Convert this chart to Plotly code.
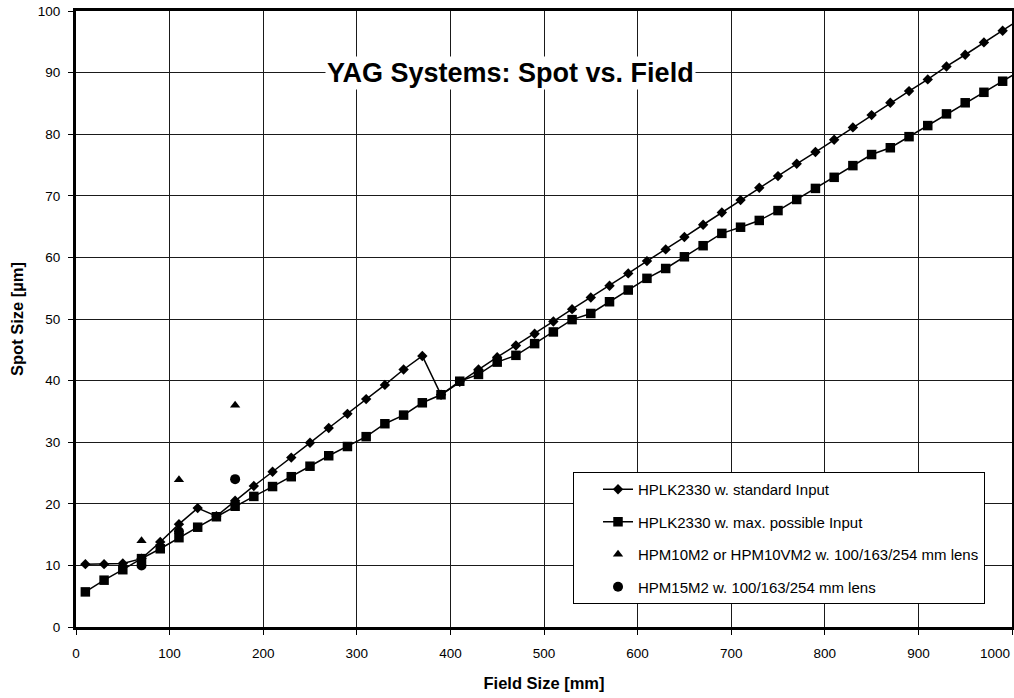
import plotly.graph_objects as go

# Field size [mm]
field_mm = [10, 30, 50, 70, 90, 110, 130, 150, 170, 190,
            210, 230, 250, 270, 290, 310, 330, 350, 370, 390,
            410, 430, 450, 470, 490, 510, 530, 550, 570, 590,
            610, 630, 650, 670, 690, 710, 730, 750, 770, 790,
            810, 830, 850, 870, 890, 910, 930, 950, 970, 990, 1010]

# HPLK2330 w. standard Input
std_input = [10.2, 10.2, 10.3, 11.1, 13.8, 16.7, 19.3, 18.0, 20.5, 22.9,
             25.2, 27.5, 29.9, 32.3, 34.6, 37.0, 39.3, 41.8, 44.0, 37.7,
             39.8, 41.8, 43.8, 45.7, 47.6, 49.6, 51.6, 53.5, 55.4, 57.4,
             59.4, 61.3, 63.3, 65.3, 67.3, 69.3, 71.3, 73.2, 75.2, 77.1,
             79.1, 81.1, 83.1, 85.1, 87.0, 88.9, 91.0, 92.9, 94.9, 96.8, 98.8]

# HPLK2330 w. max. possible Input
max_input = [5.7, 7.6, 9.3, 11.1, 12.7, 14.5, 16.2, 17.9, 19.6, 21.2,
             22.8, 24.4, 26.1, 27.8, 29.3, 30.9, 33.0, 34.4, 36.4, 37.7,
             39.9, 41.0, 43.0, 44.1, 46.0, 47.9, 49.9, 50.9, 52.8, 54.7,
             56.6, 58.2, 60.1, 61.9, 63.9, 64.9, 66.0, 67.6, 69.4, 71.2,
             73.0, 74.9, 76.7, 77.8, 79.6, 81.4, 83.3, 85.1, 86.8, 88.6, 90.4]

# HPM10M2 or HPM10VM2 w. 100/163/254 mm lens
hpm10_x = [70, 110, 170]
hpm10_y = [14.0, 23.9, 36.0]

# HPM15M2 w. 100/163/254 mm lens
hpm15_x = [70, 110, 170]
hpm15_y = [10.0, 15.5, 24.0]

x_tick_vals = [0, 100, 200, 300, 400, 500, 600, 700, 800, 900, 1000]
x_tick_text = ["0", "100", "200", "300", "400", "500", "600", "700", "800", "900", ""]
x_last_label = "1000"   # drawn right-aligned at its tick so it stays inside the page
y_tick_vals = [0, 10, 20, 30, 40, 50, 60, 70, 80, 90, 100]

FONT = "Arial, 'Liberation Sans', sans-serif"

fig = go.Figure()
fig.add_trace(go.Scatter(
    x=field_mm, y=std_input, mode="lines+markers",
    name="HPLK2330 w. standard Input", legendgroup="a",
    line=dict(color="black", width=1.5),
    marker=dict(symbol="diamond", size=8, color="black"),
))
fig.add_trace(go.Scatter(
    x=field_mm, y=max_input, mode="lines+markers",
    name="HPLK2330 w. max. possible Input", legendgroup="b",
    line=dict(color="black", width=1.5),
    marker=dict(symbol="square", size=9.5, color="black"),
))
fig.add_trace(go.Scatter(
    x=hpm10_x, y=hpm10_y, mode="markers",
    name="HPM10M2 or HPM10VM2 w. 100/163/254 mm lens", legendgroup="c",
    marker=dict(symbol="triangle-up", size=9, color="black"),
))
fig.add_trace(go.Scatter(
    x=hpm15_x, y=hpm15_y, mode="markers",
    name="HPM15M2 w. 100/163/254 mm lens", legendgroup="d",
    marker=dict(symbol="circle", size=10, color="black"),
))

axis_common = dict(
    showline=True, mirror=True, linewidth=3, linecolor="black",
    showgrid=True, gridcolor="#1a1a1a", gridwidth=1, zeroline=False,
    ticks="outside", ticklen=5, tickwidth=1, tickcolor="black",
    tickfont=dict(family=FONT, size=13.5, color="black"),
    automargin=False,
)

fig.update_layout(
    width=1014, height=698,
    margin=dict(l=76, r=2, t=11, b=71),
    paper_bgcolor="white", plot_bgcolor="white",
    font=dict(family=FONT, color="black"),
    xaxis=dict(range=[0, 1000], tickvals=x_tick_vals, ticktext=x_tick_text,
               ticklabelstandoff=7,
               title=dict(text="<b>Field Size [mm]</b>", standoff=18,
                          font=dict(family=FONT, size=16.5)),
               **axis_common),
    yaxis=dict(range=[0, 100], tickvals=y_tick_vals,
               ticklabelstandoff=5,
               title=dict(text="<b>Spot Size [µm]</b>", standoff=10,
                          font=dict(family=FONT, size=16.5)),
               **axis_common),
    legend=dict(
        x=0.531, y=0.2516, xanchor="left", yanchor="top",
        bgcolor="white", bordercolor="black", borderwidth=1,
        font=dict(family=FONT, size=15, color="black"),
        traceorder="grouped", tracegroupgap=10, indentation=24,
    ),
    showlegend=True,
    annotations=[
        dict(
            text="<b>YAG Systems: Spot vs. Field</b>",
            xref="paper", yref="paper", x=0.4637, y=0.899,
            xanchor="center", yanchor="middle", showarrow=False,
            bgcolor="white", font=dict(family=FONT, size=27, color="black"),
        ),
        dict(
            text=x_last_label,
            xref="x", yref="paper", x=x_tick_vals[-1], y=0,
            xanchor="right", yanchor="middle", yshift=-26, showarrow=False,
            font=dict(family=FONT, size=13.5, color="black"),
        ),
    ],
)

fig.write_html("out.html",
               config={"displayModeBar": False},
               post_script="document.body.style.margin='0';document.body.style.padding='0';")
